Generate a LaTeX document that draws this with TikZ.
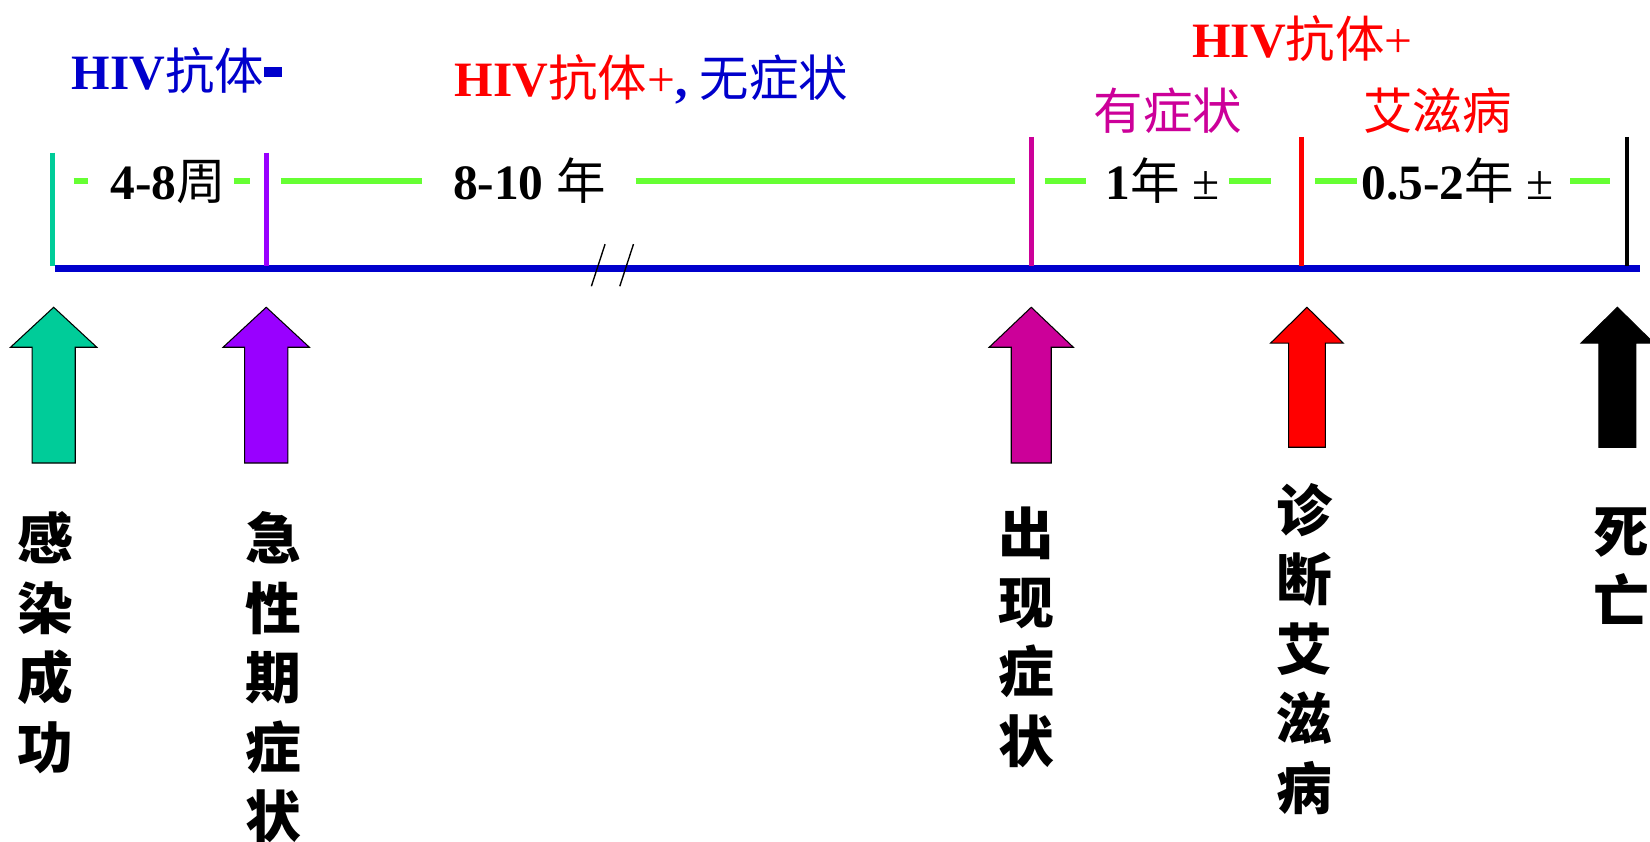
\documentclass[tikz,border=0pt]{standalone}
\usepackage{fontspec}
\setmainfont{Liberation Serif}
\newfontfamily\cjk{Noto Sans CJK SC}
\definecolor{tealc}{HTML}{00CC99}
\definecolor{purp}{HTML}{9900FF}
\definecolor{mag}{HTML}{CC0099}
\definecolor{redc}{HTML}{FF0000}
\definecolor{bluec}{HTML}{0000CC}
\definecolor{greenc}{HTML}{66FF33}
\tikzset{
 lbl/.style={inner sep=0pt, font=\fontsize{47}{50}\selectfont\bfseries},
 vlbl/.style={inner sep=0pt, align=center, anchor=north, font=\fontsize{53}{66}\selectfont\cjk\bfseries},
 tickline/.style={line width=4.5pt},
 gline/.style={greenc, line width=5pt},
 barrow/.style={draw=black, line width=1pt},
 axisline/.style={bluec, line width=6.5pt},
 breakmark/.style={black, line width=1.3pt},
}
% block arrow: cx, headhalf, shafthalf, tip, base, bottom, colour
\newcommand\UpArr[7]{%
 \draw[barrow, fill=#7] (#1-#3,#6) -- (#1-#3,#5) -- (#1-#2,#5) -- (#1,#4)
   -- (#1+#2,#5) -- (#1+#3,#5) -- (#1+#3,#6) -- cycle;}
\newcommand\BigDash{\rule[0.25em]{0.36em}{0.2em}}
\begin{document}
\begin{tikzpicture}[x=1pt,y=-1pt]
\useasboundingbox (0,0) rectangle (1568,800);
\clip (0,0) rectangle (1568,800);
% axis
\coordinate (ax0) at (52,255);
\coordinate (ax1) at (1558,255);
\draw[axisline] (ax0) -- (ax1);
% ticks
\coordinate (k1t) at (50,145);  \coordinate (k1b) at (50,253);
\coordinate (k2t) at (253,145); \coordinate (k2b) at (253,253);
\coordinate (k3t) at (980,130); \coordinate (k3b) at (980,253);
\coordinate (k4t) at (1237,130);\coordinate (k4b) at (1237,253);
\coordinate (k5t) at (1546,130);\coordinate (k5b) at (1546,253);
\draw[tickline, tealc] (k1t) -- (k1b);
\draw[tickline, purp] (k2t) -- (k2b);
\draw[tickline, mag] (k3t) -- (k3b);
\draw[tickline, redc] (k4t) -- (k4b);
\draw[tickline, black] (k5t) -- (k5b);
% break marks
\draw[breakmark] (562,272) -- (575,232);
\draw[breakmark] (589,272) -- (602,232);
% top labels
\node[lbl, text=bluec, anchor=base west] (t1) at (68,85) {HIV{\cjk\mdseries 抗体}\BigDash};
\node[lbl, anchor=base west] (t2) at (432,92) {\textcolor{redc}{HIV{\cjk\mdseries 抗体}{\mdseries+}}\textcolor{bluec}{, {\cjk\mdseries 无症状}}};
\node[lbl, text=redc, anchor=base west] (t3) at (1133,55) {HIV{\cjk\mdseries 抗体}{\mdseries+}};
\node[lbl, text=mag] (t4) at (1110,105) {\cjk\mdseries 有症状};
\node[lbl, text=redc] (t5) at (1366,105) {\cjk\mdseries 艾滋病};
% period labels
\node[lbl, anchor=base] (p1) at (160,190) {4-8{\cjk\mdseries 周}};
\node[lbl, anchor=base] (p2) at (503,190) {8-10 {\cjk\mdseries 年}};
\node[lbl, anchor=base] (p3) at (1105,190) {1{\cjk\mdseries 年} {\mdseries ±}};
\node[lbl, anchor=base] (p4) at (1385,190) {0.5-2{\cjk\mdseries 年} {\mdseries ±}};
% green dashes
\draw[gline] (70,172) -- (84,172);
\draw[gline] (222,172) -- (238,172);
\draw[gline] (267,172) -- (401,172);
\draw[gline] (604,172) -- (965,172);
\draw[gline] (993,172) -- (1032,172);
\draw[gline] (1168,172) -- (1208,172);
\draw[gline] (1250,172) -- (1290,172);
\draw[gline] (1492,172) -- (1530,172);
% block arrows
\UpArr{51}{41}{20.5}{292}{330}{440}{tealc}
\UpArr{253}{41}{20.5}{292}{330}{440}{purp}
\UpArr{980}{40}{19}{292}{330}{440}{mag}
\UpArr{1242}{34.5}{17.5}{292}{326}{425}{redc}
\UpArr{1537}{34.5}{17.5}{292}{326}{425}{black}
% vertical labels
\node[vlbl] (v1) at (43,486) {感\\染\\成\\功};
\node[vlbl] (v2) at (260,486) {急\\性\\期\\症\\状};
\node[vlbl] (v3) at (975,481) {出\\现\\症\\状};
\node[vlbl] (v4) at (1240,459) {诊\\断\\艾\\滋\\病};
\node[vlbl] (v5) at (1541,482) {死\\亡};
\end{tikzpicture}
\end{document}
